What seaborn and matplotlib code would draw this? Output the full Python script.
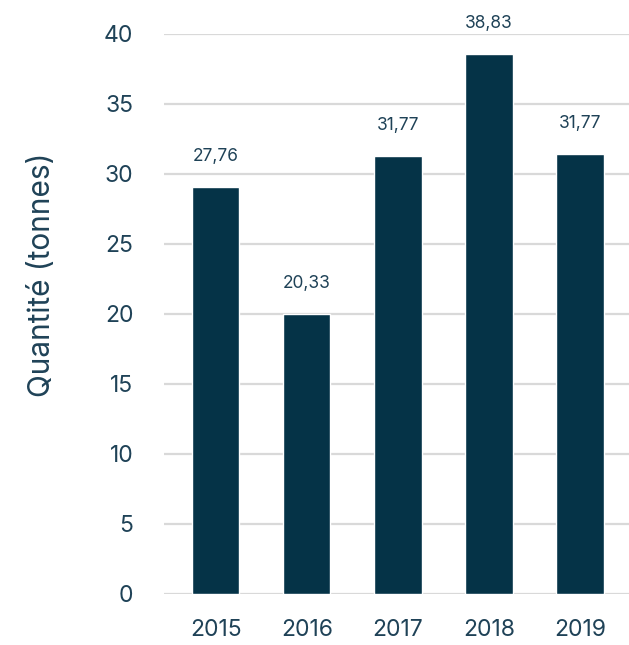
import matplotlib
matplotlib.use("Agg")
import pandas as pd
import seaborn as sns
import matplotlib.pyplot as plt

# Données
annees = ["2015", "2016", "2017", "2018", "2019"]
hauteurs = [29.1, 20.0, 31.3, 38.6, 31.45]
etiquettes = ["27,76", "20,33", "31,77", "38,83", "31,77"]

df = pd.DataFrame({"annee": annees, "quantite": hauteurs})

sns.set_theme(style="white")
plt.rcParams["font.family"] = ["Inter", "DejaVu Sans"]

texte = "#1f4257"
barre = "#053347"

fig = plt.figure(figsize=(6.29, 6.45), dpi=100)
ax = fig.add_axes([164 / 629, 51 / 645, 465 / 629, 560 / 645])

sns.barplot(data=df, x="annee", y="quantite", color=barre, width=0.52,
            saturation=1, ax=ax, zorder=3)

for i, lab in enumerate(etiquettes):
    ax.annotate(lab, (i, hauteurs[i]), xytext=(0, 22), textcoords="offset points",
                ha="center", va="center", fontsize=12.5, color=texte)

ax.set_ylim(0, 40)
ax.set_xlim(-0.567, 4.537)
ax.set_yticks(range(0, 41, 5))
ax.yaxis.grid(True, color="#d9d9d9", linewidth=1.6, zorder=0)
ax.set_axisbelow(True)
sns.despine(ax=ax, left=True, bottom=True)
ax.tick_params(axis="both", length=0, labelsize=16.5, labelcolor=texte)
ax.tick_params(axis="y", pad=22)
ax.tick_params(axis="x", pad=18)
ax.set_xlabel("")
ax.set_ylabel("Quantité (tonnes)", fontsize=21.5, color=texte)
ax.yaxis.set_label_coords(-0.232, 0.57)

fig.savefig("out.png", dpi=100)
